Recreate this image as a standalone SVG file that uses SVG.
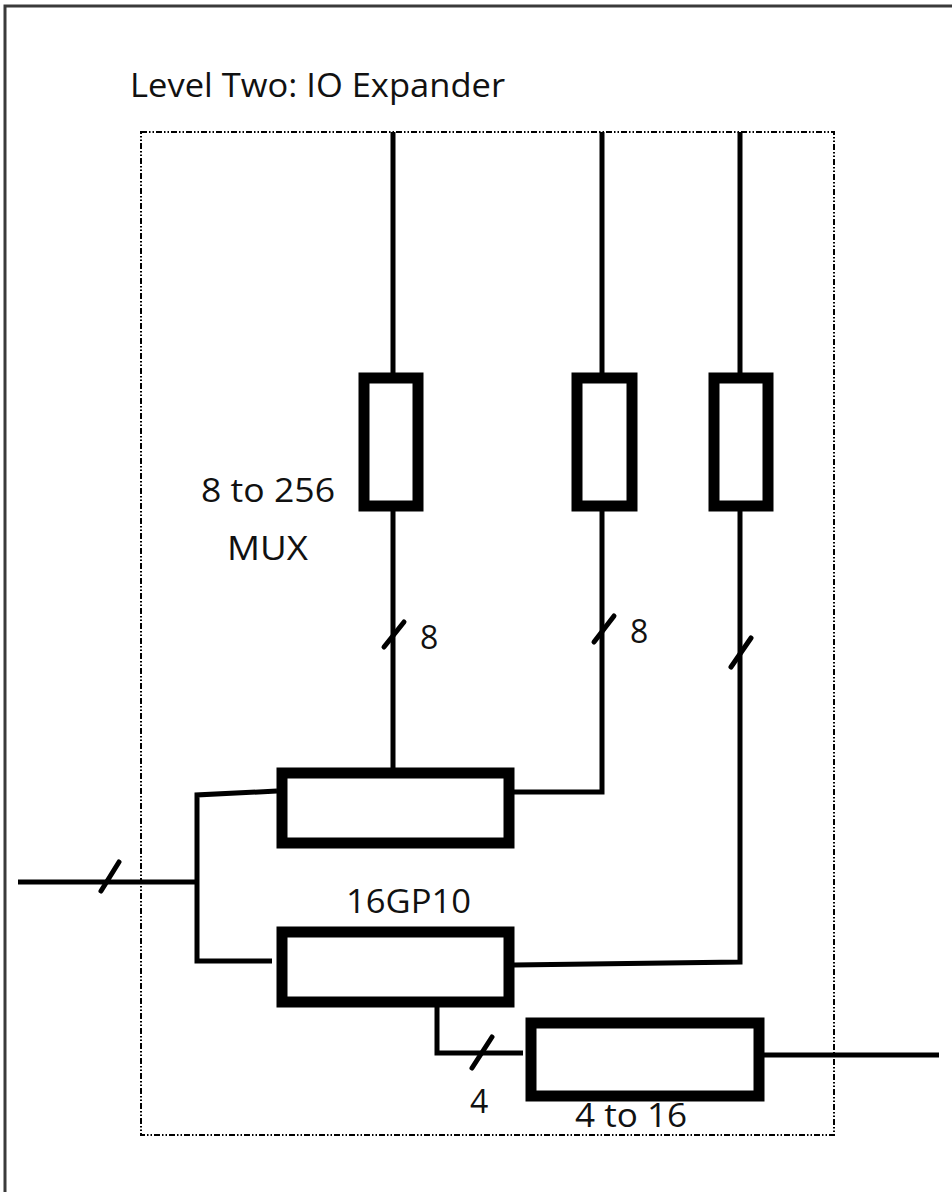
<svg xmlns="http://www.w3.org/2000/svg" width="952" height="1192" viewBox="0 0 952 1192">
<style>
.t{font-family:"Open Sans","Noto Sans",sans-serif;fill:#111}
.box{fill:#fff;stroke:#000;stroke-width:11}
.w{fill:none;stroke:#000;stroke-width:5;stroke-linecap:butt}
.s{fill:none;stroke:#000;stroke-width:5;stroke-linecap:round}
</style>
<rect width="952" height="1192" fill="#fff"/>
<path d="M5,1192 V6 H952" fill="none" stroke="#3a3a3a" stroke-width="3"/>
<g id="frame">
<rect x="141" y="132" width="693" height="1003" fill="none" stroke="#000" stroke-width="2" stroke-dasharray="6 2 1.5 2 1.5 2"/>
</g>
<text class="t" x="130" y="97" font-size="32" textLength="375" lengthAdjust="spacingAndGlyphs">Level Two: IO Expander</text>
<g id="connectors">
<path class="w" d="M393,132 V373"/>
<path class="w" d="M602,132 V373"/>
<path class="w" d="M740,132 V373"/>
<path class="w" d="M393,511 V780"/>
<path class="w" d="M602,511 V792 H514"/>
<path class="w" d="M740,511 V962 L514,965"/>
<path class="w" d="M18,882 H197"/>
<path class="w" d="M197,882 V795 L277,791"/>
<path class="w" d="M197,882 V961 H272"/>
<path class="w" d="M437,1007 V1053 H523"/>
<path class="w" d="M764,1055 H939"/>
<path class="s" d="M384,647 L404,622"/>
<path class="s" d="M594,642 L614,616"/>
<path class="s" d="M731,667 L751,638"/>
<path class="s" d="M101,891 L119,862"/>
<path class="s" d="M472,1068 L492,1037"/>
</g>
<g id="mux1"><rect class="box" x="364" y="378" width="54" height="128"/></g>
<g id="mux2"><rect class="box" x="577" y="378" width="55" height="128"/></g>
<g id="mux3"><rect class="box" x="714" y="378" width="54" height="128"/></g>
<g id="gpio1"><rect class="box" x="282" y="773" width="227" height="70"/></g>
<g id="gpio2"><rect class="box" x="282" y="932" width="227" height="70"/></g>
<text class="t" x="575" y="1127" font-size="32" textLength="112" lengthAdjust="spacingAndGlyphs">4 to 16</text>
<g id="dec"><rect class="box" x="531" y="1023" width="228" height="73"/></g>
<text class="t" x="201" y="502" font-size="32" textLength="134" lengthAdjust="spacingAndGlyphs">8 to 256</text>
<text class="t" x="227" y="560" font-size="32" textLength="81" lengthAdjust="spacingAndGlyphs">MUX</text>
<text class="t" x="420" y="649" font-size="32">8</text>
<text class="t" x="630" y="643" font-size="32">8</text>
<text class="t" x="346" y="913" font-size="32" textLength="125" lengthAdjust="spacingAndGlyphs">16GP10</text>
<text class="t" x="470" y="1113" font-size="32">4</text>
</svg>
